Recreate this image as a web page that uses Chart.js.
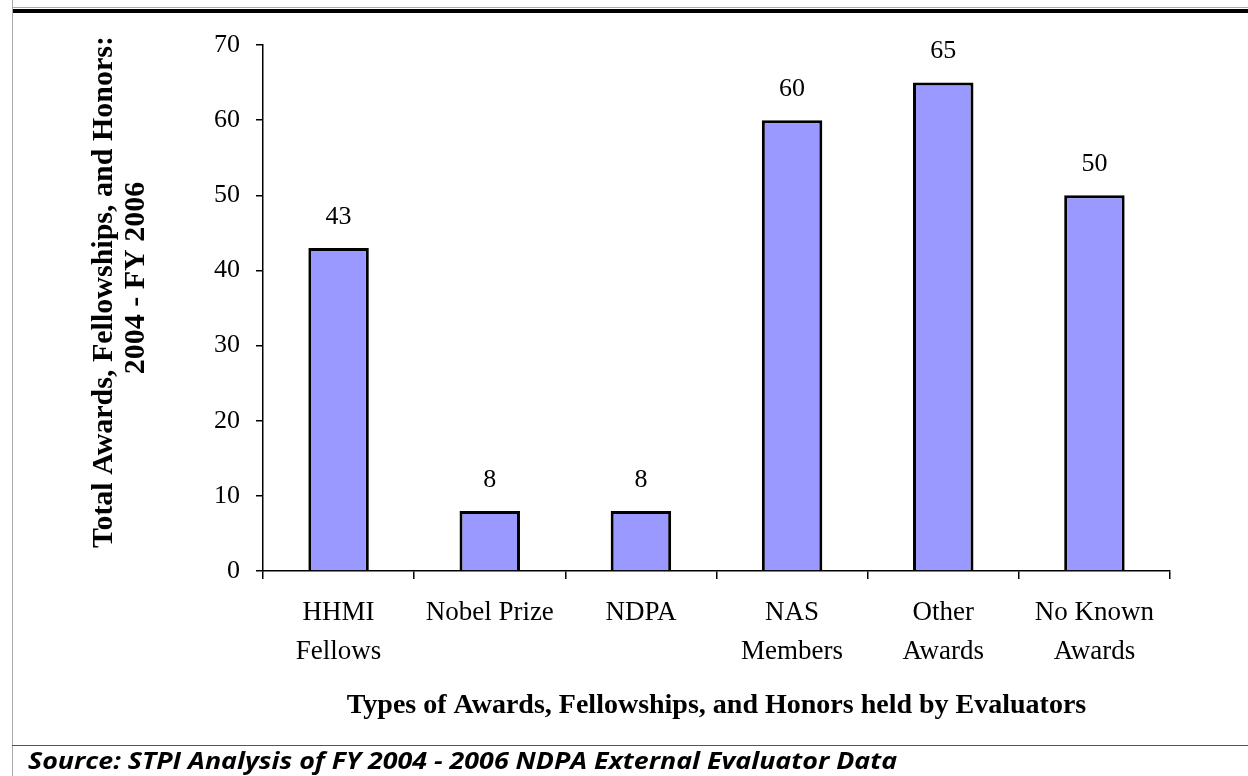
<!DOCTYPE html>
<html>
<head>
<meta charset="utf-8">
<script src="https://cdn.jsdelivr.net/npm/chart.js@4"></script>
<style>
  body { margin: 0; background: #fff; }
  #wrap { position: relative; width: 1248px; height: 776px; overflow: hidden; }
  #graphique { position: absolute; left: 0; top: 0; }
  .ligne { position: absolute; }
  #source { position: absolute; left: 28px; top: 744px; white-space: nowrap; transform-origin: left top;
            font: italic bold 23px "Open Sans", "DejaVu Sans", sans-serif; color: #000; }
</style>
</head>
<body>
<div id="wrap">
  <canvas id="graphique" width="1248" height="776"></canvas>
  <div class="ligne" style="left:12px;top:7px;width:1236px;height:1px;background:#aaa"></div>
  <div class="ligne" style="left:12px;top:9px;width:1236px;height:4px;background:#000"></div>
  <div class="ligne" style="left:12px;top:0;width:1px;height:776px;background:#aaa"></div>
  <div class="ligne" style="left:12px;top:745px;width:1236px;height:1px;background:#555"></div>
  <div id="source">Source: STPI Analysis of FY 2004 - 2006 NDPA External Evaluator Data</div>
</div>
<script>
const categories = [['HHMI', 'Fellows'], 'Nobel Prize', 'NDPA', ['NAS', 'Members'], ['Other', 'Awards'], ['No Known', 'Awards']];
const valeurs = [43, 8, 8, 60, 65, 50];
const yTicks = [0, 10, 20, 30, 40, 50, 60, 70];
const yTitre = ['Total Awards, Fellowships, and Honors:', '2004 - FY 2006'];
const xTitre = 'Types of Awards, Fellowships, and Honors held by Evaluators';

const SERIF = '"Liberation Serif", "Times New Roman", serif';

// valeurs au-dessus des barres
const etiquettes = {
   id: 'etiquettes',
   afterDatasetsDraw(chart) {
      const c = chart.ctx;
      const meta = chart.getDatasetMeta(0);
      c.save();
      c.font = '26px ' + SERIF;
      c.fillStyle = '#000';
      c.textAlign = 'center';
      c.textBaseline = 'middle';
      meta.data.forEach((bar, i) => {
         c.fillText(String(valeurs[i]), bar.x, bar.y - 31);
      });
      c.restore();
   }
};

// titre vertical sur deux lignes
const titreY = {
   id: 'titreY',
   afterDraw(chart) {
      const c = chart.ctx;
      c.save();
      c.font = 'bold 30px ' + SERIF;
      c.fillStyle = '#000';
      c.textAlign = 'center';
      c.textBaseline = 'middle';
      const pos = [[104, 292], [136, 278]];
      yTitre.forEach((t, i) => {
         c.save();
         c.translate(pos[i][0], pos[i][1]);
         c.rotate(-Math.PI / 2);
         c.fillText(t, 0, 0);
         c.restore();
      });
      c.restore();
   }
};

const myChart = new Chart(document.getElementById('graphique'), {
   type: 'bar',
   data: {
      labels: categories,
      datasets: [{
         data: valeurs,
         backgroundColor: '#9999FF',
         borderColor: '#000',
         borderWidth: 3,
         categoryPercentage: 1,
         barPercentage: 0.4
      }]
   },
   options: {
      responsive: false,
      animation: false,
      layout: { padding: { left: 0, top: 45, right: 78, bottom: 53 } },
      plugins: { legend: { display: false }, tooltip: { enabled: false } },
      scales: {
         x: {
            afterFit: s => { s.height = 152; },
            grid: { drawOnChartArea: false, drawTicks: true, tickLength: 8, color: '#000', lineWidth: 1.5 },
            border: { display: true, color: '#000', width: 1.5 },
            ticks: {
               color: '#000', font: { family: SERIF, size: 27, lineHeight: 1.45 },
               padding: 14, maxRotation: 0, autoSkip: false
            },
            title: {
               display: true, text: xTitre, color: '#000',
               font: { family: SERIF, size: 28, weight: 'bold', lineHeight: 1.2 },
               padding: 0
            }
         },
         y: {
            min: 0, max: 70,
            afterFit: s => { s.width = 263; },
            afterBuildTicks: s => { s.ticks = yTicks.map(v => ({ value: v })); },
            grid: { drawOnChartArea: false, drawTicks: true, tickLength: 7, color: '#000', lineWidth: 1.5 },
            border: { display: true, color: '#000', width: 1.5 },
            ticks: { color: '#000', font: { family: SERIF, size: 26 }, padding: 16 }
         }
      }
   },
   plugins: [etiquettes, titreY]
});

// ajuster la largeur de la source
const src = document.getElementById('source');
src.style.transform = 'scaleX(' + (869 / src.offsetWidth) + ')';
</script>
</body>
</html>
